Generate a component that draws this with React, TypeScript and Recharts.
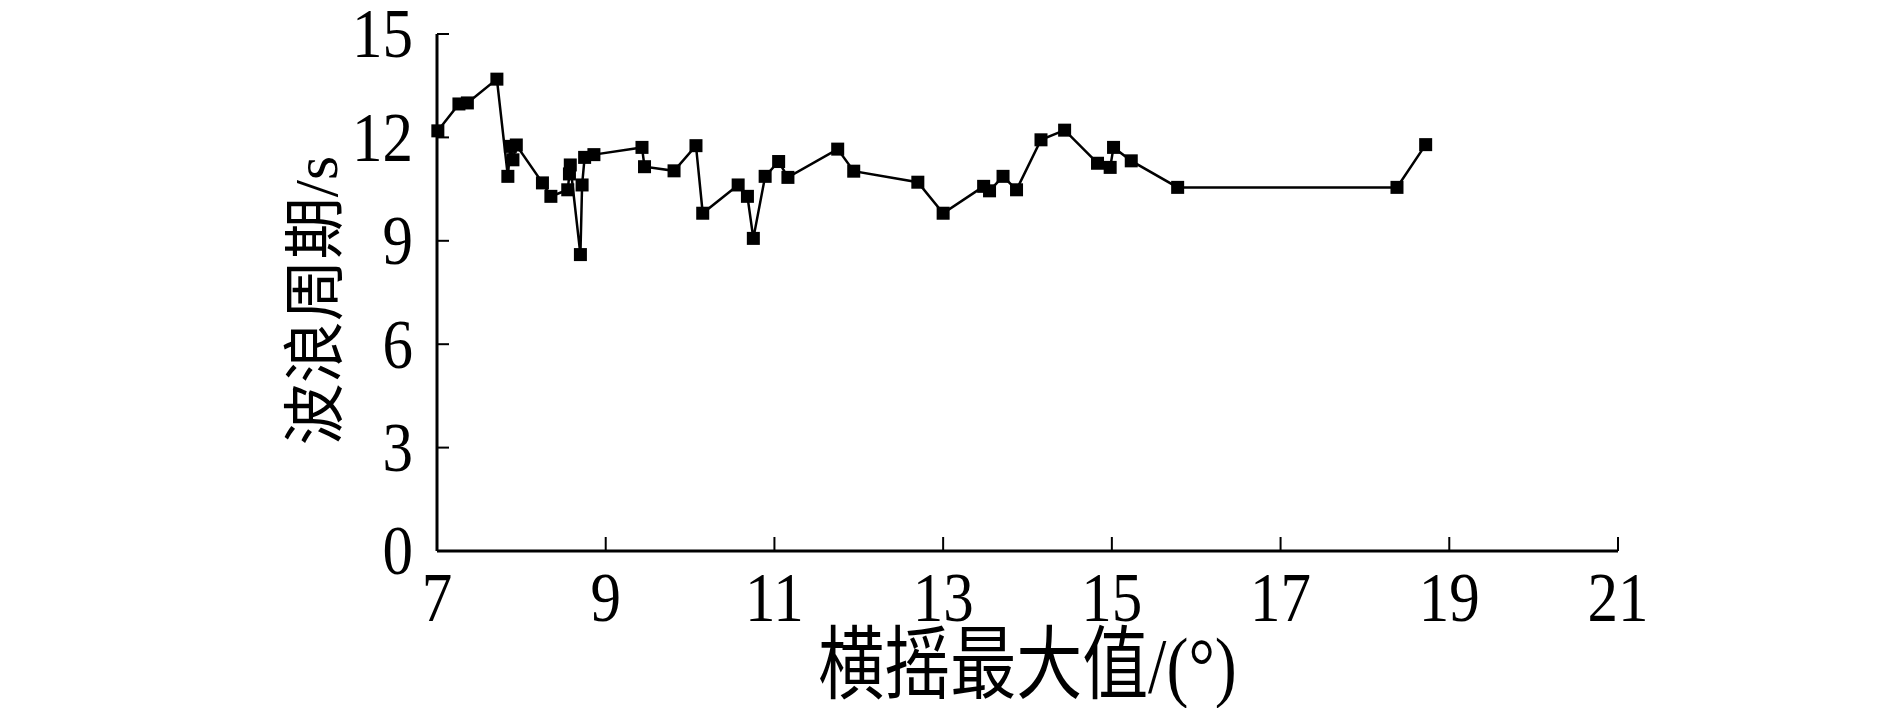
import React from 'react';
import { LineChart, Line, XAxis, YAxis } from 'recharts';

const rollMax = [
  7.01, 7.26, 7.36, 7.71, 7.84, 7.87, 7.90, 7.94, 8.25, 8.35,
  8.55, 8.57, 8.58, 8.70, 8.72, 8.75, 8.86, 9.43, 9.46, 9.81,
  10.07, 10.15, 10.57, 10.68, 10.75, 10.89, 11.05, 11.16, 11.75, 11.94,
  12.70, 13.00, 13.48, 13.55, 13.71, 13.87, 14.16, 14.44, 14.83, 14.98,
  15.02, 15.23, 15.78, 18.38, 18.72,
];
const wavePeriod = [
  12.19, 12.97, 13.00, 13.69, 10.87, 11.74, 11.35, 11.78, 10.68, 10.29,
  10.48, 10.94, 11.20, 8.60, 10.62, 11.42, 11.50, 11.71, 11.15, 11.03,
  11.76, 9.80, 10.62, 10.29, 9.07, 10.87, 11.30, 10.84, 11.66, 11.02,
  10.70, 9.80, 10.58, 10.45, 10.87, 10.48, 11.93, 12.21, 11.25, 11.13,
  11.71, 11.32, 10.55, 10.55, 11.79,
];
const xTicks = [7, 9, 11, 13, 15, 17, 19, 21];
const yTicks = [0, 3, 6, 9, 12, 15];
const xTitle = '横摇最大值/(°)';
const yTitle = '波浪周期/s';

const data = rollMax.map((x, i) => ({ x, y: wavePeriod[i] }));

const FONT = '"Liberation Serif", "Noto Sans CJK SC", serif';

const XTick = (props: any) => {
  const { x, y, payload } = props;
  return (
    <g>
      <line x1={x} y1={y} x2={x} y2={y - 14} stroke="#000" strokeWidth={2} />
      <text
        transform={`translate(${x},${y}) scale(1,1.14)`}
        x={0}
        y={61.4}
        textAnchor="middle"
        fontSize={61}
        fontFamily={FONT}
        fill="#000"
      >
        {payload.value}
      </text>
    </g>
  );
};

const YTick = (props: any) => {
  const { x, y, payload } = props;
  return (
    <g>
      <line x1={x} y1={y} x2={x + 12} y2={y} stroke="#000" strokeWidth={2} />
      <text
        transform={`translate(${x - 24},${y}) scale(1,1.14)`}
        x={0}
        y={20.6}
        textAnchor="end"
        fontSize={61}
        fontFamily={FONT}
        fill="#000"
      >
        {payload.value}
      </text>
    </g>
  );
};

const XLabel = (props: any) => {
  const vb = props.viewBox;
  const cx = vb.x + vb.width / 2;
  return (
    <text
      transform={`translate(${cx},692) scale(1,1.2)`}
      x={0}
      y={0}
      textAnchor="middle"
      fontSize={66}
      fontFamily={FONT}
      fill="#000"
    >
      {xTitle}
    </text>
  );
};

const YLabel = (props: any) => {
  const vb = props.viewBox;
  const cy = vb.y + vb.height / 2 + 8;
  return (
    <text
      transform={`translate(337,${cy}) rotate(-90)`}
      x={0}
      y={0}
      textAnchor="middle"
      fontSize={62}
      fontFamily={FONT}
      fill="#000"
    >
      {yTitle}
    </text>
  );
};

const SquareDot = (props: any) => {
  const { cx, cy, index } = props;
  if (cx == null || cy == null) return null;
  return <rect key={`d${index}`} x={cx - 6.5} y={cy - 6.5} width={13} height={13} fill="#000" />;
};

export default function App() {
  return (
    <div style={{ position: 'absolute', left: 0, top: 0, background: '#fff' }}>
      <LineChart
        width={1890}
        height={708}
        data={data}
        margin={{ top: 34, right: 272, bottom: 57, left: 357 }}
      >
        <XAxis
          type="number"
          dataKey="x"
          domain={[7, 21]}
          ticks={xTicks}
          interval={0}
          height={100}
          tickSize={0}
          tickMargin={0}
          tickLine={false}
          axisLine={{ stroke: '#000', strokeWidth: 3 }}
          tick={<XTick />}
          label={<XLabel />}
        />
        <YAxis
          type="number"
          dataKey="y"
          domain={[0, 15]}
          ticks={yTicks}
          interval={0}
          width={80}
          tickSize={0}
          tickMargin={0}
          tickLine={false}
          axisLine={{ stroke: '#000', strokeWidth: 3 }}
          tick={<YTick />}
          label={<YLabel />}
        />
        <Line
          type="linear"
          dataKey="y"
          stroke="#000"
          strokeWidth={2.5}
          dot={<SquareDot />}
          activeDot={false}
          isAnimationActive={false}
        />
      </LineChart>
    </div>
  );
}
